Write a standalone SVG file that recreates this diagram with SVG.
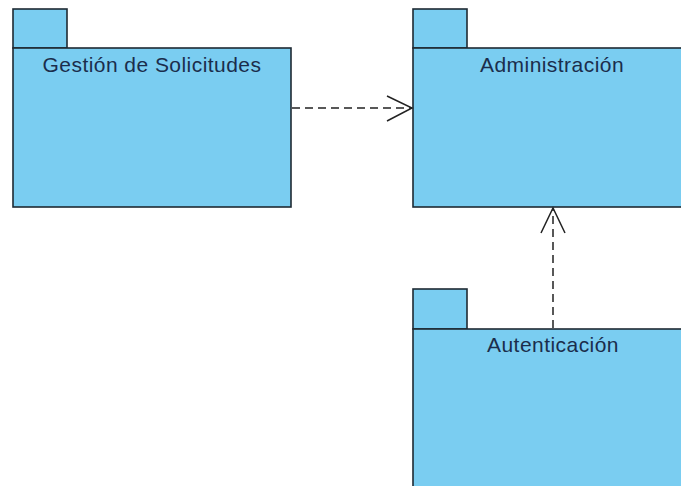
<svg xmlns="http://www.w3.org/2000/svg" width="681" height="486" viewBox="0 0 681 486">
<defs>
<style>
.pk{fill:#7acdf1;stroke:#1f2a33;stroke-width:1.6}
.lbl{font-family:"Liberation Sans",Arial,sans-serif;font-size:21px;letter-spacing:0.45px;fill:#1b2d4c;text-anchor:middle}
.dep{fill:none;stroke:#222;stroke-width:1.5;stroke-dasharray:8,5}
.head{fill:none;stroke:#222;stroke-width:1.5}
</style>
</defs>
<rect width="681" height="486" fill="#ffffff"/>
<g id="gestion">
<rect class="pk" x="13" y="9" width="54" height="39"/>
<rect class="pk" x="13" y="48" width="278" height="159"/>
<text class="lbl" x="152" y="72">Gestión de Solicitudes</text>
</g>
<g id="administracion">
<rect class="pk" x="413" y="9" width="54" height="39"/>
<rect class="pk" x="413" y="48" width="280" height="159"/>
<text class="lbl" x="552" y="72">Administración</text>
</g>
<g id="autenticacion">
<rect class="pk" x="413" y="289" width="54" height="40"/>
<rect class="pk" x="413" y="329" width="280" height="170"/>
<text class="lbl" x="553" y="352">Autenticación</text>
</g>
<g id="connectors">
<line class="dep" x1="292" y1="108" x2="412" y2="108"/>
<polyline class="head" points="387,96 412,108 387,121"/>
<line class="dep" x1="553" y1="328" x2="553" y2="209"/>
<polyline class="head" points="541,233 553,208 565,233"/>
</g>
</svg>
